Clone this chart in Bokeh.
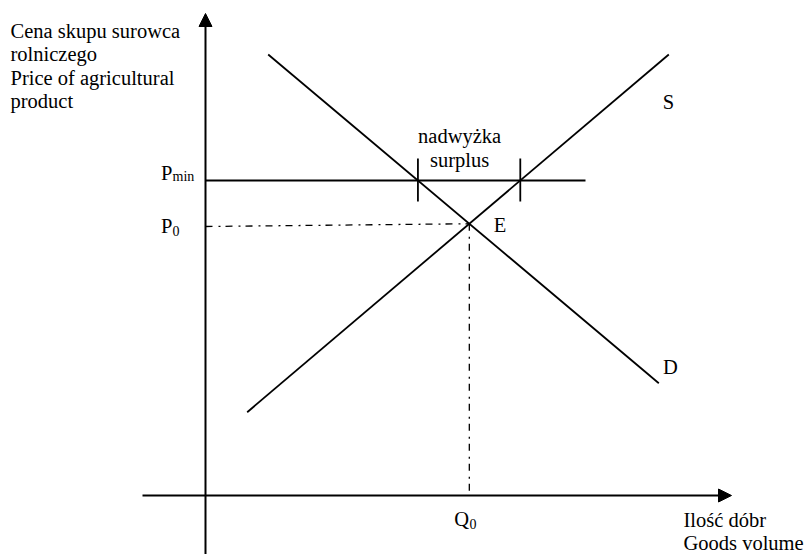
from bokeh.plotting import figure
from bokeh.models import Range1d, Arrow, NormalHead
from bokeh.core.properties import value
from bokeh.embed import file_html
from bokeh.resources import INLINE

# ---- data (arbitrary units: quantity Q, price P) ----
demand_q = [6.27, 45.33]
demand_p = [44.10, 11.23]
supply_q = [4.17, 46.33]
supply_p = [8.33, 44.10]
p_min = 31.5
p_min_q_end = 38.0
p0_start = 26.9          # where the dash-dot P0 guide meets the price axis
axis_q = [-6.3, 52.6]    # quantity axis extent (arrow tip at end)
axis_p = [-6.5, 48.2]    # price axis extent (arrow tip at end)

y_title = ["Cena skupu surowca", "rolniczego", "Price of agricultural", "product"]
x_title = ["Ilość dóbr", "Goods volume"]
surplus_text = ["nadwyżka", "surplus"]
curve_labels = ["S", "D", "E"]

FONT = value("Liberation Serif")
BIG = "20.5px"
SUB = "14px"


def line_at_p(q, p, target):
    return q[0] + (target - p[0]) * (q[1] - q[0]) / (p[1] - p[0])


def intersect(q1, p1, q2, p2):
    m1 = (p1[1] - p1[0]) / (q1[1] - q1[0])
    m2 = (p2[1] - p2[0]) / (q2[1] - q2[0])
    q = (p2[0] - p1[0] + m1 * q1[0] - m2 * q2[0]) / (m1 - m2)
    return q, p1[0] + m1 * (q - q1[0])


eq_q, eq_p = intersect(demand_q, demand_p, supply_q, supply_p)
qd_min = line_at_p(demand_q, demand_p, p_min)
qs_min = line_at_p(supply_q, supply_p, p_min)

p = figure(width=808, height=554,
           x_range=Range1d(-20.5, 60.3), y_range=Range1d(-5.9, 49.5),
           output_backend="svg", toolbar_location=None,
           x_axis_type=None, y_axis_type=None, min_border=0,
           outline_line_color=None, background_fill_color="white",
           border_fill_color="white")

# axes with arrow heads
p.add_layout(Arrow(end=NormalHead(size=13, fill_color="black", line_color="black", line_width=1),
                   x_start=axis_q[0], y_start=0, x_end=axis_q[1], y_end=0,
                   line_width=2, line_color="black"))
p.add_layout(Arrow(end=NormalHead(size=13, fill_color="black", line_color="black", line_width=1),
                   x_start=0, y_start=axis_p[0], x_end=0, y_end=axis_p[1],
                   line_width=2, line_color="black"))

# demand and supply
p.line(demand_q, demand_p, line_color="black", line_width=1.8)
p.line(supply_q, supply_p, line_color="black", line_width=1.8)

# minimum price
p.line([0, p_min_q_end], [p_min, p_min], line_color="black", line_width=1.8)
p.segment(x0=[qd_min, qs_min], y0=[p_min - 2.1] * 2, x1=[qd_min, qs_min], y1=[p_min + 2.2] * 2,
          line_color="black", line_width=1.8)

# equilibrium guides (dash-dot)
p.line([0, eq_q], [p0_start, eq_p], line_color="black", line_width=1.3, line_dash="7 6 2 5")
p.line([eq_q, eq_q], [eq_p, 0], line_color="black", line_width=1.3, line_dash="7 6 2 5")


def txt(x, y, s, size=BIG, align="left", baseline="middle"):
    p.text(x=[x], y=[y], text=[s], text_font=FONT, text_font_size=size,
           text_align=align, text_baseline=baseline, text_color="black")


# axis titles
for i, s in enumerate(y_title):
    txt(-19.5, axis_p[1] - 1.7 - 2.35 * i, s)
txt(axis_q[1] - 4.8, -2.45, x_title[0])
txt(axis_q[1] - 4.8, -4.75, x_title[1])

# P_min, P0, Q0
txt(-3.3, p_min + 0.8, "P", align="right")
txt(-3.3, p_min + 0.4, "min", size=SUB)
txt(-3.3, p0_start + 0.1, "P", align="right")
txt(-3.3, p0_start - 0.4, "0", size=SUB)
txt(eq_q - 0.03, -2.3, "Q", align="right")
txt(eq_q + 0.03, -2.8, "0", size=SUB)

# curve labels
txt(supply_q[1] - 0.03, supply_p[1] - 4.7, curve_labels[0], align="center")
txt(demand_q[1] + 1.17, demand_p[1] + 1.67, curve_labels[1], align="center")
txt(eq_q + 2.45, eq_p - 0.13, curve_labels[2])

# surplus label
mid = (qd_min + qs_min) / 2 - 0.95
txt(mid, p_min + 4.5, surplus_text[0], align="center")
txt(mid, p_min + 2.1, surplus_text[1], align="center")

open("out.html", "w").write(file_html(p, INLINE))
